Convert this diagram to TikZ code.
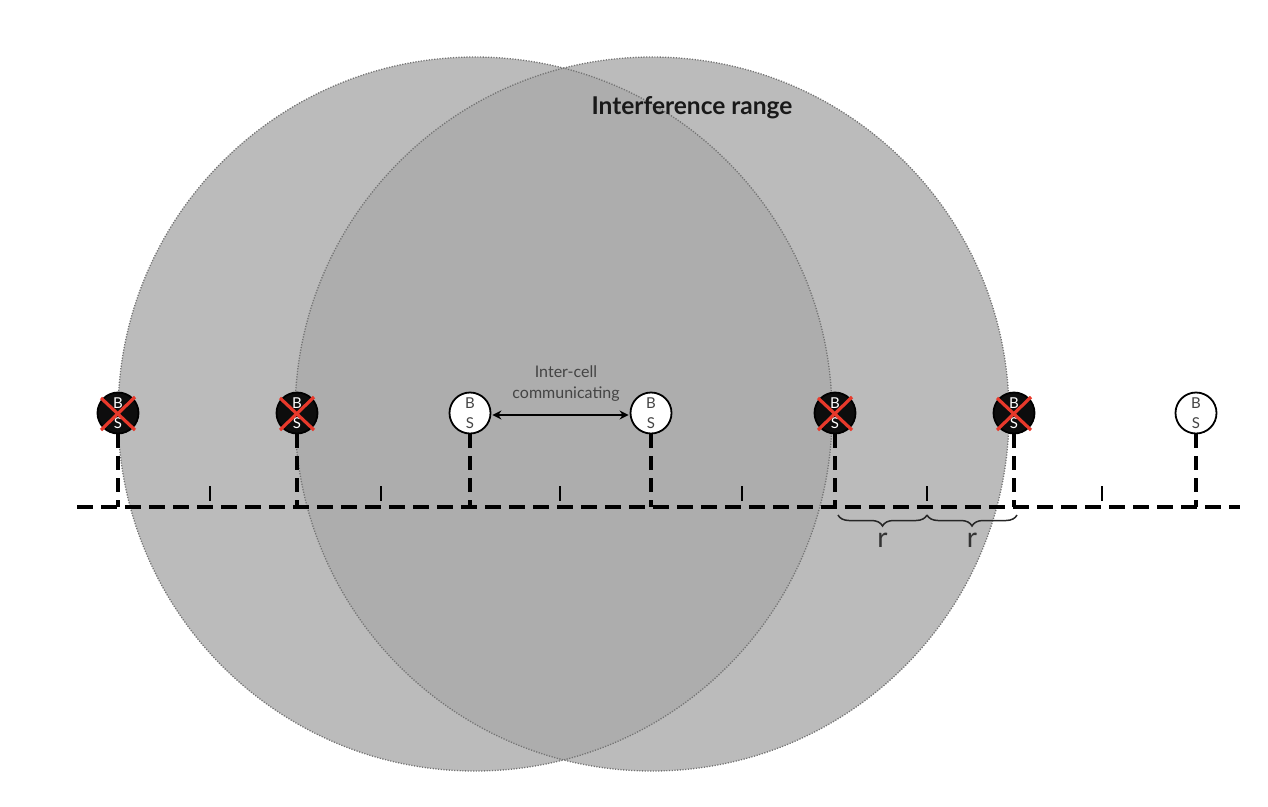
\documentclass[tikz,border=0pt]{standalone}
\usepackage{fontspec}
\setmainfont{Lato}
\usetikzlibrary{decorations.pathreplacing,arrows.meta,calc}
\definecolor{cellgray}{HTML}{BBBBBB}
\definecolor{lensgray}{HTML}{ADADAD}
\definecolor{rimgray}{HTML}{737373}
\definecolor{xred}{HTML}{E8392B}
\definecolor{txtgray}{HTML}{444444}
\tikzset{
  cellfill/.style={fill=cellgray},
  rim/.style={draw=rimgray, line width=1.3pt, dash pattern=on 1.2pt off 1.5pt},
  bsnode/.style={circle, draw=black, line width=1.8pt, fill=white, minimum size=41pt, inner sep=0pt,
    align=center, text=txtgray, font=\fontsize{15}{20}\selectfont},
  bsdead/.style={bsnode, fill=black!95, text=white},
  xline/.style={draw=xred, line width=3.2pt},
  baseline/.style={draw=black, line width=3.2pt, dash pattern=on 16pt off 8pt},
  vline/.style={draw=black, line width=3.2pt, dash pattern=on 14pt off 8pt},
  tickline/.style={draw=black, line width=2.8pt},
  commarrow/.style={draw=black, line width=2.6pt, {Stealth[length=9pt,width=9pt]}-{Stealth[length=9pt,width=9pt]}},
  rbrace/.style={draw=black!85, line width=1.5pt, decorate, decoration={brace, mirror, amplitude=11pt}},
  smalltxt/.style={text=txtgray, font=\fontsize{16}{21}\selectfont, align=center},
  rtxt/.style={text=black!80, font=\fontsize{28}{30}\selectfont}
}
\begin{document}
\begin{tikzpicture}[x=1pt,y=-1pt]
\useasboundingbox (0,0) rectangle (1268,806);
% interference circles
\fill[cellfill] (475,414) circle (357);
\fill[cellfill] (652,414) circle (357);
\begin{scope}
  \clip (475,414) circle (357);
  \fill[lensgray] (652,414) circle (357);
\end{scope}
\draw[rim] (475,414) circle (357);
\draw[rim] (652,414) circle (357);
\node[font=\fontsize{24.5}{27}\selectfont\bfseries, text=black!90] (title) at (692,108) {Interference range};
% baseline
\coordinate (bl) at (77,507);
\coordinate (br) at (1240,507);
\draw[baseline] (bl) -- (br);
% ticks
\foreach \i/\x in {1/210,2/381,3/560,4/742,5/927,6/1102} {
  \coordinate (t\i) at (\x,507);
  \draw[tickline] ([yshift=21pt]t\i) -- ([yshift=6pt]t\i);
}
% base stations
\node[bsdead] (BS1) at (118,413) {B\\S};
\node[bsdead] (BS2) at (297,413) {B\\S};
\node[bsnode] (BS3) at (470,413) {B\\S};
\node[bsnode] (BS4) at (651,413) {B\\S};
\node[bsdead] (BS5) at (835,413) {B\\S};
\node[bsdead] (BS6) at (1014,413) {B\\S};
\node[bsnode] (BS7) at (1196,413) {B\\S};
\foreach \n in {BS1,BS2,BS3,BS4,BS5,BS6,BS7} {
  \draw[vline] (\n.south) -- (\n.south |- bl);
}
\foreach \n in {BS1,BS2,BS5,BS6} {
  \draw[xline] ([shift={(-17,-15)}]\n.center) -- ([shift={(17,17)}]\n.center);
  \draw[xline] ([shift={(17,-16)}]\n.center) -- ([shift={(-17,17)}]\n.center);
}
% communication
\draw[commarrow] ([xshift=1pt,yshift=-2pt]BS3.east) -- ([xshift=-1pt,yshift=-2pt]BS4.west);
\node[smalltxt] (comm) at (566,384) {Inter-cell\\communicating};
% braces
\coordinate (b1) at (838,515);
\coordinate (b2) at (927,515);
\coordinate (b3) at (1017,515);
\draw[rbrace] (b1) -- (b2) node[midway, below=14pt, rtxt] (r1) {r};
\draw[rbrace] (b2) -- (b3) node[midway, below=14pt, rtxt] (r2) {r};
\end{tikzpicture}
\end{document}
